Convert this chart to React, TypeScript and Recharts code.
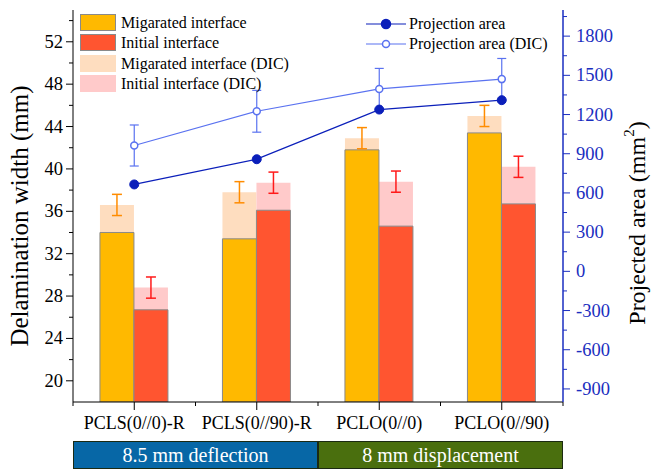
import { ComposedChart, Bar, Line, XAxis, YAxis, ErrorBar, Legend, Label } from 'recharts';

// categories + values
const categories = ['PCLS(0//0)-R', 'PCLS(0//90)-R', 'PCLO(0//0)', 'PCLO(0//90)'];
const migrated = [34.0, 33.4, 41.8, 43.4];
const initial = [26.7, 36.1, 34.6, 36.7];
const migratedDic = [36.6, 37.8, 42.9, 45.0];
const migratedDicErr = [1.0, 1.0, 1.0, 1.0];
const initialDic = [28.8, 38.7, 38.8, 40.2];
const initialDicErr = [1.0, 1.0, 1.0, 1.0];
const projection = [665, 858, 1238, 1310];
const projectionDic = [963, 1225, 1396, 1471];
const projectionDicErr = [157, 160, 157, 158];

const leftTicks = [20, 22, 24, 26, 28, 30, 32, 34, 36, 38, 40, 42, 44, 46, 48, 50, 52, 54];
const rightTicks = [
  -900, -750, -600, -450, -300, -150, 0, 150, 300, 450, 600, 750, 900, 1050, 1200, 1350, 1500, 1650, 1800, 1950,
];
const groups = [
  { label: '8.5 mm deflection', count: 2, color: '#0767A6' },
  { label: '8 mm displacement', count: 2, color: '#4A6F0E' },
];

const data = categories.map((name, i) => ({
  name,
  migrated: migrated[i],
  initial: initial[i],
  migratedDic: migratedDic[i],
  migratedDicErr: migratedDicErr[i],
  initialDic: initialDic[i],
  initialDicErr: initialDicErr[i],
  projection: projection[i],
  projectionDic: projectionDic[i],
  projectionDicErr: projectionDicErr[i],
}));

const FONT = '"Liberation Serif", "Times New Roman", serif';
const W = 651;
const H = 469;
const PLOT_L = 73;
const PLOT_R = 563;
const PLOT_T = 10;
const PLOT_B = 402;
const BAND = (PLOT_R - PLOT_L) / categories.length;

const C_MIG = '#FFB900';
const C_INI = '#FF5530';
const C_MIG_DIC = '#FEDDBF';
const C_INI_DIC = '#FFCACA';
const C_LINE = '#0B1FBA';
const C_LINE_DIC = '#5A72F0';
const C_AXIS_R = '#1A2EC0';

const LeftTick = ({ y, payload }: any) => {
  const major = payload.value % 4 === 0;
  return (
    <g>
      <line x1={PLOT_L - (major ? 7 : 4)} x2={PLOT_L} y1={y} y2={y} stroke="#000" />
      {major && (
        <text x={PLOT_L - 10} y={y + 6} textAnchor="end" fontSize={18.5} fontFamily={FONT} fill="#000">
          {payload.value}
        </text>
      )}
    </g>
  );
};

const RightTick = ({ y, payload }: any) => {
  const major = payload.value % 300 === 0;
  return (
    <g>
      <line x1={PLOT_R} x2={PLOT_R + (major ? 7 : 4)} y1={y} y2={y} stroke={C_AXIS_R} />
      {major && (
        <text x={PLOT_R + 13} y={y + 6} textAnchor="start" fontSize={18.5} fontFamily={FONT} fill={C_AXIS_R}>
          {payload.value}
        </text>
      )}
    </g>
  );
};

const CatTick = ({ x, payload, index }: any) => (
  <g>
    <line x1={x} x2={x} y1={PLOT_B} y2={PLOT_B + 8} stroke="#000" />
    <line x1={x - BAND / 2} x2={x - BAND / 2} y1={PLOT_B} y2={PLOT_B + 4} stroke="#000" />
    {index === categories.length - 1 && (
      <line x1={x + BAND / 2} x2={x + BAND / 2} y1={PLOT_B} y2={PLOT_B + 4} stroke="#000" />
    )}
    <text x={x} y={PLOT_B + 27} textAnchor="middle" fontSize={18} fontFamily={FONT} fill="#000">
      {payload.value}
    </text>
  </g>
);

const barItems = [
  { label: 'Migarated interface', fill: C_MIG, stroke: '#8a8a8a' },
  { label: 'Initial interface', fill: C_INI, stroke: '#8a8a8a' },
  { label: 'Migarated interface (DIC)', fill: C_MIG_DIC, stroke: 'none' },
  { label: 'Initial interface (DIC)', fill: C_INI_DIC, stroke: 'none' },
];
const lineItems = [
  { label: 'Projection area', color: C_LINE, open: false },
  { label: 'Projection area (DIC)', color: C_LINE_DIC, open: true },
];

const LegendContent = () => (
  <div style={{ position: 'relative', width: W, height: 100, fontFamily: FONT, fontSize: 16, color: '#000' }}>
    {barItems.map((it, i) => (
      <div key={it.label} style={{ position: 'absolute', left: 80, top: 13.5 + i * 20.5, display: 'flex', alignItems: 'center' }}>
        <div
          style={{
            width: 36,
            height: 17,
            boxSizing: 'border-box',
            background: it.fill,
            border: it.stroke === 'none' ? 'none' : `1px solid ${it.stroke}`,
          }}
        />
        <span style={{ marginLeft: 5, lineHeight: '17px', whiteSpace: 'nowrap' }}>{it.label}</span>
      </div>
    ))}
    {lineItems.map((it, i) => (
      <div key={it.label} style={{ position: 'absolute', left: 366, top: 15 + i * 20.3, display: 'flex', alignItems: 'center' }}>
        <svg width={40} height={18}>
          <line x1={0} x2={40} y1={9} y2={9} stroke={it.color} strokeWidth={1.2} />
          <circle cx={20} cy={9} r={it.open ? 3.5 : 4.5} fill={it.open ? '#fff' : it.color} stroke={it.color} strokeWidth={1.5} />
        </svg>
        <span style={{ marginLeft: 3, lineHeight: '18px', whiteSpace: 'nowrap' }}>{it.label}</span>
      </div>
    ))}
  </div>
);

export default function App() {
  const total = groups.reduce((s, g) => s + g.count, 0);
  let start = PLOT_L;
  return (
    <div style={{ position: 'fixed', left: 0, top: 0, width: W, height: H, background: '#fff' }}>
      <ComposedChart
        width={W}
        height={H}
        data={data}
        margin={{ top: PLOT_T, right: W - PLOT_R - 60, bottom: H - PLOT_B - 30, left: PLOT_L - 60 }}
        barCategoryGap="22%"
        barGap={0}
      >
        <XAxis
          xAxisId="main"
          dataKey="name"
          height={30}
          axisLine={{ stroke: '#000' }}
          tickLine={false}
          tick={<CatTick />}
          interval={0}
        />
        <XAxis
          xAxisId="back"
          dataKey="name"
          orientation="top"
          height={0}
          axisLine={{ stroke: '#000' }}
          tickLine={false}
          tick={false}
        />
        <YAxis
          yAxisId="left"
          width={60}
          domain={[18, 55]}
          ticks={leftTicks}
          interval={0}
          allowDataOverflow
          axisLine={{ stroke: '#000' }}
          tickLine={false}
          tick={<LeftTick />}
        >
          <Label
            content={({ viewBox }: any) => {
              const cx = viewBox.x + 6;
              const cy = 216;
              return (
                <text
                  x={cx}
                  y={cy}
                  transform={`rotate(-90 ${cx} ${cy})`}
                  textAnchor="middle"
                  dominantBaseline="central"
                  fontSize={25}
                  fontFamily={FONT}
                  fill="#000"
                >
                  Delamination width (mm)
                </text>
              );
            }}
          />
        </YAxis>
        <YAxis
          yAxisId="right"
          orientation="right"
          width={60}
          domain={[-1000, 2000]}
          ticks={rightTicks}
          interval={0}
          allowDataOverflow
          axisLine={{ stroke: C_AXIS_R, strokeWidth: 1.5 }}
          tickLine={false}
          tick={<RightTick />}
        >
          <Label
            content={({ viewBox }: any) => {
              const cx = viewBox.x + 74;
              const cy = 223;
              return (
                <text
                  x={cx}
                  y={cy}
                  transform={`rotate(-90 ${cx} ${cy})`}
                  textAnchor="middle"
                  dominantBaseline="central"
                  fontSize={24}
                  fontFamily={FONT}
                  fill="#000"
                >
                  Projected area (mm
                  <tspan baselineShift="super" fontSize={15}>2</tspan>)
                </text>
              );
            }}
          />
        </YAxis>

        <Bar xAxisId="back" yAxisId="left" dataKey="migratedDic" fill={C_MIG_DIC} isAnimationActive={false}>
          <ErrorBar dataKey="migratedDicErr" direction="y" width={5} stroke="#FF8C00" strokeWidth={1.5} />
        </Bar>
        <Bar xAxisId="back" yAxisId="left" dataKey="initialDic" fill={C_INI_DIC} isAnimationActive={false}>
          <ErrorBar dataKey="initialDicErr" direction="y" width={5} stroke="#FF1A1A" strokeWidth={1.5} />
        </Bar>
        <Bar
          xAxisId="main"
          yAxisId="left"
          dataKey="migrated"
          fill={C_MIG}
          stroke="#8a8a8a"
          strokeWidth={1}
          isAnimationActive={false}
        />
        <Bar
          xAxisId="main"
          yAxisId="left"
          dataKey="initial"
          fill={C_INI}
          stroke="#8a8a8a"
          strokeWidth={1}
          isAnimationActive={false}
        />
        <Line
          xAxisId="main"
          yAxisId="right"
          dataKey="projectionDic"
          stroke={C_LINE_DIC}
          strokeWidth={1.2}
          dot={{ r: 3.5, fill: '#fff', stroke: C_LINE_DIC, strokeWidth: 1.5 }}
          isAnimationActive={false}
        >
          <ErrorBar dataKey="projectionDicErr" direction="y" width={4.5} stroke={C_LINE_DIC} strokeWidth={1.2} />
        </Line>
        <Line
          xAxisId="main"
          yAxisId="right"
          dataKey="projection"
          stroke={C_LINE}
          strokeWidth={1.3}
          dot={{ r: 4.5, fill: C_LINE, stroke: C_LINE, strokeWidth: 1 }}
          isAnimationActive={false}
        />
        <Legend
          layout="vertical"
          align="center"
          verticalAlign="middle"
          content={<LegendContent />}
          wrapperStyle={{ position: 'absolute', left: 0, top: 0, width: W, height: 100 }}
        />
      </ComposedChart>
      {groups.map((g) => {
        const w = ((PLOT_R - PLOT_L) * g.count) / total;
        const left = start;
        start += w;
        return (
          <div
            key={g.label}
            style={{
              position: 'absolute',
              left,
              top: 441,
              width: w,
              height: 28,
              boxSizing: 'border-box',
              border: '1px solid #1b2a12',
              background: g.color,
              color: '#fff',
              fontFamily: FONT,
              fontSize: 20,
              lineHeight: '26px',
              textAlign: 'center',
            }}
          >
            {g.label}
          </div>
        );
      })}
    </div>
  );
}
